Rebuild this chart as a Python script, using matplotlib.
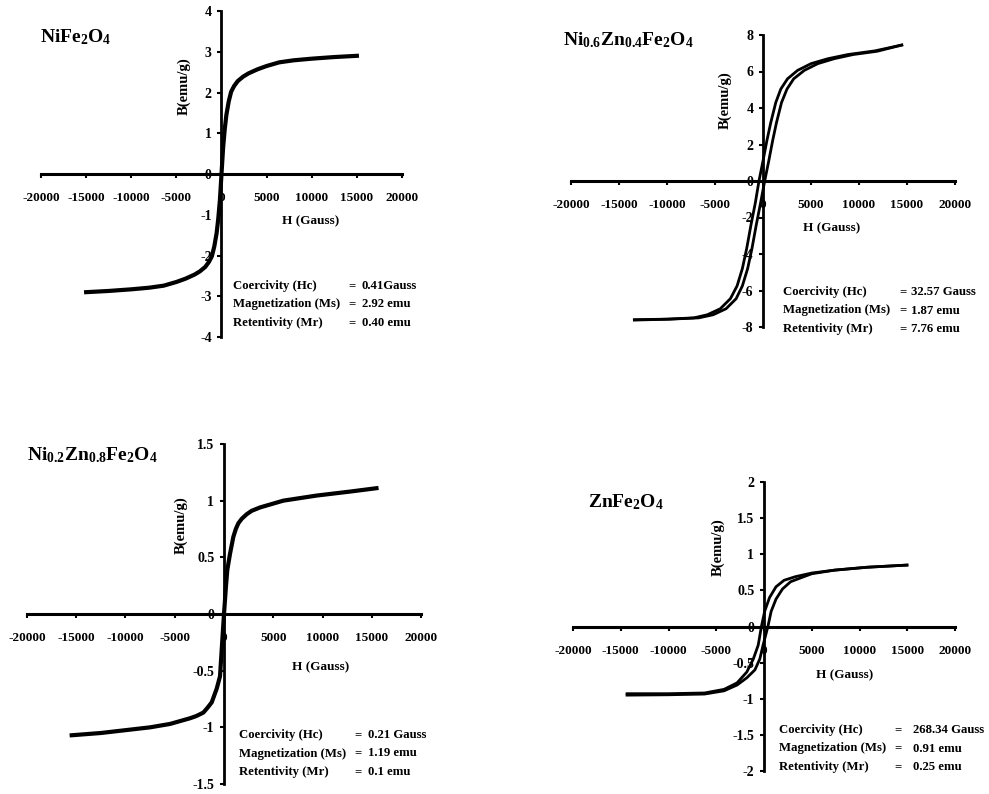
import matplotlib
matplotlib.use("Agg")
import matplotlib.pyplot as plt

plt.rcParams['font.family'] = ['Liberation Serif', 'DejaVu Serif']
plt.rcParams['font.weight'] = 'bold'
plt.rcParams['mathtext.fontset'] = 'custom'
plt.rcParams['mathtext.rm'] = 'Liberation Serif'
plt.rcParams['mathtext.bf'] = 'Liberation Serif:bold'

W, H = 989, 794

# --- datos ---
x_ticks = [-20000, -15000, -10000, -5000, 0, 5000, 10000, 15000, 20000]

# NiFe2O4 (lazo practicamente cerrado)
h1 = [-15000, -12500, -10000, -8000, -6400, -5000, -4000, -3000, -2400, -1800, -1400, -1070, -800,
      -540, -360, -180, 0, 180, 360, 540, 800, 1070, 1400, 1800, 2400, 3000, 4000, 5000, 6400,
      8000, 10000, 12500, 15000]
b1 = [-2.90, -2.87, -2.83, -2.79, -2.74, -2.65, -2.57, -2.47, -2.39, -2.28, -2.16, -2.02, -1.78,
      -1.45, -1.10, -0.65, 0.0, 0.65, 1.10, 1.45, 1.78, 2.02, 2.16, 2.28, 2.39, 2.47, 2.57, 2.65, 2.74,
      2.79, 2.83, 2.87, 2.90]

# Ni0.6Zn0.4Fe2O4 (rama descendente / ascendente)
h2_up = [-13400, -10000, -7200, -5800, -4450, -3400, -2700, -2150, -1700, -1250, -800, -420,
         0, 400, 805, 1330, 1855, 2555, 3600, 5000, 6755, 8855, 11655, 14455]
b2_up = [-7.60, -7.57, -7.50, -7.33, -7.00, -6.45, -5.75, -4.80, -3.70, -2.40, -1.20, 0.0,
         1.10, 2.20, 3.19, 4.30, 5.04, 5.60, 6.06, 6.43, 6.70, 6.93, 7.13, 7.45]
h2_dn = [-13400, -9700, -6700, -5200, -3850, -2800, -2150, -1600, -1150, -700, -250, 175,
         600, 1000, 1400, 1930, 2500, 3200, 4300, 5700, 7400, 9400, 11900, 14455]
b2_dn = [-7.62, -7.57, -7.50, -7.33, -7.00, -6.45, -5.75, -4.80, -3.70, -2.40, -1.20, 0.0,
         1.10, 2.20, 3.19, 4.30, 5.04, 5.60, 6.06, 6.43, 6.70, 6.93, 7.11, 7.45]

# Ni0.2Zn0.8Fe2O4
h3 = [-15460, -12500, -10000, -7500, -5475, -3450, -2800, -2100, -1700, -1250, -744, -406, -237, 0,
      203, 338, 608, 946, 1200, 1453, 1800, 2300, 2800, 3650, 6016, 9400, 12776, 15480]
b3 = [-1.07, -1.05, -1.025, -1.00, -0.97, -0.92, -0.90, -0.87, -0.83, -0.78, -0.66, -0.55, -0.32, 0.0,
      0.25, 0.39, 0.53, 0.68, 0.75, 0.80, 0.84, 0.88, 0.91, 0.94, 1.00, 1.045, 1.08, 1.11]

# ZnFe2O4
h4_up = [-14340, -10000, -6220, -4180, -2820, -1800, -1120, -610, -270, 68, 578, 1258, 2108,
         3300, 5000, 7380, 10780, 14970]
b4_up = [-0.93, -0.93, -0.92, -0.87, -0.78, -0.63, -0.45, -0.26, 0.0, 0.21, 0.40, 0.55, 0.64,
         0.69, 0.74, 0.78, 0.82, 0.85]
h4_dn = [-14340, -10000, -6220, -4180, -2820, -1800, -950, -440, -100, 410, 750, 1260, 1940,
         2790, 3980, 5000, 7380, 10780, 14970]
b4_dn = [-0.95, -0.945, -0.935, -0.89, -0.81, -0.71, -0.60, -0.45, -0.26, 0.0, 0.21, 0.38, 0.52,
         0.62, 0.68, 0.73, 0.78, 0.82, 0.85]

titulos = [r"$\mathbf{NiFe_2O_4}$", r"$\mathbf{Ni_{0.6}Zn_{0.4}Fe_2O_4}$",
           r"$\mathbf{Ni_{0.2}Zn_{0.8}Fe_2O_4}$", r"$\mathbf{ZnFe_2O_4}$"]
hc = ["0.41Gauss", "32.57 Gauss", "0.21 Gauss", "268.34 Gauss"]
ms = ["2.92 emu", "1.87 emu", "1.19 emu", "0.91 emu"]
mr = ["0.40 emu", "7.76 emu", "0.1 emu", "0.25 emu"]

fig = plt.figure(figsize=(W / 100, H / 100), dpi=100)


def fx(px):
    return px / W


def fy(py):
    return 1 - py / H


def panel(x0, x1, ytop, ybot, ylim, yticks, yfmt):
    # ejes en pixeles: x0..x1 para -20000..20000, ytop..ybot para ylim
    ax = fig.add_axes([fx(x0), fy(ybot), (x1 - x0) / W, (ybot - ytop) / H])
    ax.set_xlim(-20000, 20000)
    ax.set_ylim(ylim)
    for s in ['top', 'right']:
        ax.spines[s].set_visible(False)
    ax.spines['left'].set_position(('data', 0))
    ax.spines['bottom'].set_position(('data', 0))
    ax.spines['left'].set_linewidth(2.0)
    ax.spines['bottom'].set_linewidth(2.2)
    ax.set_xticks(x_ticks)
    ax.set_xticklabels([str(t) for t in x_ticks])
    ax.set_yticks(yticks)
    ax.set_yticklabels([yfmt(t) for t in yticks])
    ax.tick_params(axis='x', direction='out', length=3, width=1.5, pad=10, labelsize=9.5)
    ax.tick_params(axis='y', direction='out', length=3, width=1.5, pad=4, labelsize=10)
    ax.patch.set_alpha(0)
    return ax


def fmt_int(v):
    return str(int(v))


def fmt_half(v):
    return str(int(v)) if v == int(v) else str(v)


ax1 = panel(41, 402, 11, 337, (-4, 4), [-4, -3, -2, -1, 0, 1, 2, 3, 4], fmt_int)
ax1.plot(h1, b1, color='black', lw=3.0)

ax2 = panel(571, 955, 35, 327, (-8, 8), [-8, -6, -4, -2, 0, 2, 4, 6, 8], fmt_int)
ax2.plot(h2_up, b2_up, color='black', lw=2.0)
ax2.plot(h2_dn, b2_dn, color='black', lw=2.0)

ax3 = panel(27, 421, 444, 784, (-1.5, 1.5), [-1.5, -1, -0.5, 0, 0.5, 1, 1.5], fmt_half)
ax3.plot(h3, b3, color='black', lw=3.0)

ax4 = panel(573, 955, 482, 771, (-2, 2), [-2, -1.5, -1, -0.5, 0, 0.5, 1, 1.5, 2], fmt_half)
ax4.plot(h4_up, b4_up, color='black', lw=2.0)
ax4.plot(h4_dn, b4_dn, color='black', lw=2.0)

# titulos (formula quimica)
pos_tit = [(40, 37), (563, 40), (27, 455), (588, 502)]
for (px, py), t in zip(pos_tit, titulos):
    fig.text(fx(px), fy(py), t, fontsize=14, ha='left', va='center')

# etiquetas de ejes
pos_h = [(311, 221), (832, 228), (321, 667), (845, 675)]
for px, py in pos_h:
    fig.text(fx(px), fy(py), "H (Gauss)", fontsize=9.5, ha='center', va='center')
pos_b = [(184, 86), (725, 100), (181, 525), (718, 547)]
for px, py in pos_b:
    fig.text(fx(px), fy(py), "B(emu/g)", fontsize=10.5, ha='center', va='center', rotation=90)

# cuadro de parametros
pos_txt = [(233, 352, 362, 286), (783, 903, 911, 292), (239, 358, 368, 735), (779, 898, 913, 730)]
nombres = ["Coercivity (Hc)", "Magnetization (Ms)", "Retentivity (Mr)"]
for i, (xl, xe, xv, y0) in enumerate(pos_txt):
    vals = [hc[i], ms[i], mr[i]]
    for j in range(3):
        yy = y0 + j * 18.5
        fig.text(fx(xl), fy(yy), nombres[j], fontsize=9.2, ha='left', va='center')
        fig.text(fx(xe), fy(yy), "=", fontsize=9.2, ha='center', va='center')
        fig.text(fx(xv), fy(yy), vals[j], fontsize=9.2, ha='left', va='center')

fig.savefig("out.png", dpi=100)
